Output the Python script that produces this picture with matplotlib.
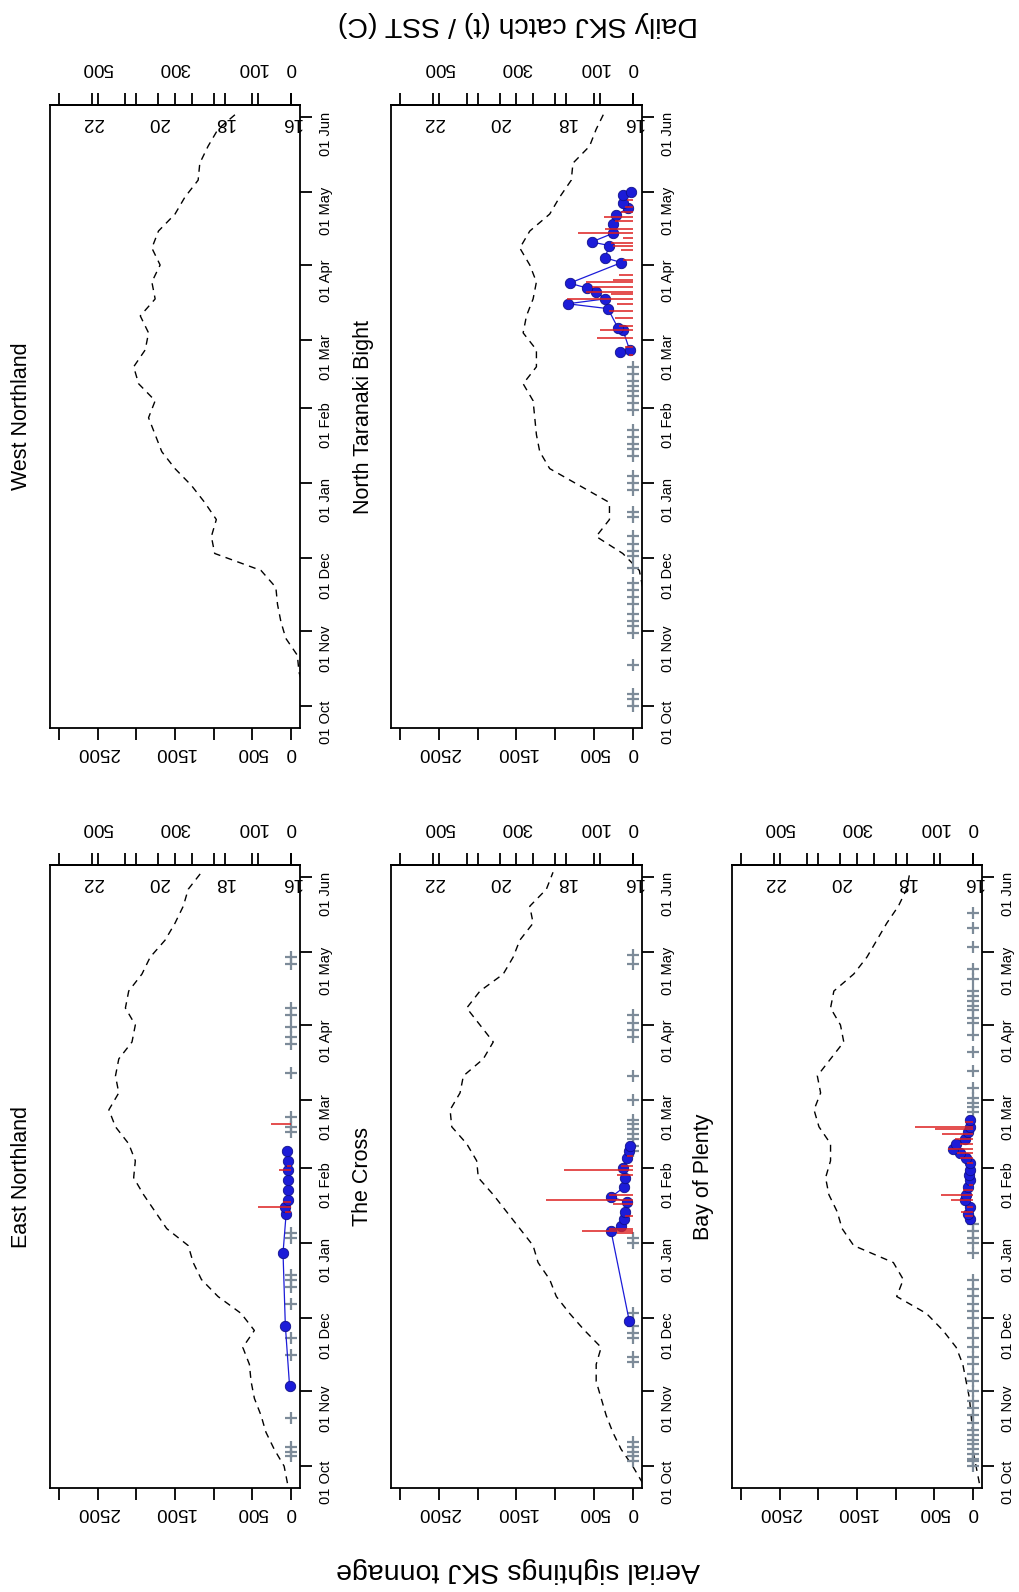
import numpy as np
import pandas as pd
import matplotlib
matplotlib.use("Agg")
import matplotlib.pyplot as plt
import matplotlib.dates as mdates
import matplotlib.transforms as mtransforms

plt.rcParams.update({
    "font.family": "Liberation Sans",
    "axes.linewidth": 1.3,
})

# ---- data ------------------------------------------------------------------
SEASON_START = pd.Timestamp("2008-10-01")      # day 0 of the season
SST_DATES = pd.date_range("2008-09-24", periods=37, freq="7D")  # weekly SST

SST_WEST_NORTHLAND = [15.0, 15.3, 15.6, 15.75, 15.8, 16.15, 16.3, 16.4, 16.45, 16.9,
                      18.3, 18.4, 18.25, 18.6, 19.0, 19.5, 19.9, 20.1, 20.3, 20.1,
                      20.6, 20.75, 20.4, 20.3, 20.55, 20.1, 20.2, 19.95, 20.2, 20.0,
                      19.5, 19.2, 18.8, 18.75, 18.5, 18.2, 17.6]
SST_NTB = [15.3, 15.4, 15.5, 15.5, 15.6, 15.6, 15.65, 15.7, 15.7, 15.8,
           16.3, 17.1, 16.7, 16.7, 17.6, 18.5, 18.8, 18.9, 18.95, 19.0,
           19.3, 18.9, 18.9, 19.3, 19.2, 19.0, 18.9, 19.1, 19.4, 19.1,
           18.5, 18.2, 17.85, 17.8, 17.3, 17.1, 16.85]
SST_EAST_NORTHLAND = [16.1, 16.2, 16.5, 16.75, 16.9, 17.1, 17.2, 17.25, 17.45, 17.1,
                      17.5, 18.2, 18.7, 18.95, 19.1, 19.75, 20.1, 20.45, 20.75, 20.7,
                      20.9, 21.3, 21.5, 21.2, 21.3, 21.2, 20.8, 20.7, 21.0, 20.9,
                      20.5, 20.25, 19.8, 19.5, 19.25, 19.1, 18.7]
SST_THE_CROSS = [15.7, 16.0, 16.35, 16.6, 16.8, 16.95, 17.1, 17.1, 16.95, 17.45,
                 17.9, 18.3, 18.5, 18.85, 19.0, 19.4, 19.8, 20.2, 20.65, 20.7,
                 21.0, 21.45, 21.5, 21.2, 21.1, 20.5, 20.2, 20.6, 21.0, 20.6,
                 19.9, 19.6, 19.4, 19.0, 19.1, 18.6, 18.4]
SST_BOP = [15.8, 15.9, 16.0, 16.0, 16.05, 16.1, 16.2, 16.3, 16.5, 16.9,
           17.4, 18.3, 18.1, 18.4, 19.6, 19.95, 20.1, 20.35, 20.45, 20.3,
           20.3, 20.65, 20.8, 20.6, 20.7, 20.3, 19.9, 20.0, 20.3, 20.2,
           19.6, 19.2, 18.9, 18.6, 18.25, 18.0, 17.9]

# aerial sightings (days since 01 Oct, tonnage)
NTB_SIGHT_DAY = [146, 147, 155, 156, 164, 166, 168, 171, 172.5, 174.5, 183, 185,
                 190, 191.5, 195, 199, 202.5, 205.5, 207.5, 211, 212]
NTB_SIGHT_T = [170, 40, 125, 190, 320, 840, 360, 470, 590, 815, 145, 360,
               300, 530, 260, 260, 210, 65, 130, 130, 17]
EN_SIGHT_DAY = [33, 58, 88, 104, 107, 110, 114, 118, 122, 126, 130]
EN_SIGHT_T = [15, 70, 100, 60, 70, 40, 35, 30, 40, 30, 45]
TC_SIGHT_DAY = [60, 97, 99, 102, 105, 109, 111, 115, 119, 123, 127, 130, 132]
TC_SIGHT_T = [45, 280, 150, 115, 95, 70, 280, 115, 95, 130, 70, 45, 30]
BOP_SIGHT_DAY = [102, 104, 107, 110, 112, 115, 118, 120, 122, 125, 127, 129,
                 131, 133, 135, 138, 140, 143]
BOP_SIGHT_T = [40, 60, 39, 103, 82, 60, 39, 50, 30, 39, 82, 170,
               255, 211, 103, 60, 30, 39]

# daily SKJ catch (days since 01 Oct, t)
NTB_CATCH_DAY = [145, 148, 152, 155, 157, 160, 163, 166, 168, 170, 171, 173, 175, 176,
                 178, 184, 188, 190, 191, 193, 195, 197, 200, 202, 204, 206, 209]
NTB_CATCH_T = [10, 20, 92, 85, 35, 45, 60, 40, 170, 55, 120, 105, 120, 50,
               35, 25, 30, 50, 55, 25, 140, 72, 45, 75, 30, 20, 15]
EN_CATCH_DAY = [105, 107, 109, 122, 124, 141]
EN_CATCH_T = [15, 84, 20, 30, 10, 50]
TC_CATCH_DAY = [96, 97, 98, 103, 108, 110, 112, 120, 122, 124, 128]
TC_CATCH_T = [40, 132, 60, 20, 50, 225, 60, 40, 178, 30, 15]
BOP_CATCH_DAY = [103, 105, 107, 110, 112, 114, 116, 125, 127, 129, 131, 133, 135,
                 137, 139, 140, 142]
BOP_CATCH_T = [20, 30, 15, 56, 81, 25, 10, 15, 34, 40, 65, 34, 45, 80, 98, 150, 20]

# flights with no SKJ sighted (days since 01 Oct)
NTB_NIL_DAY = [0, 3, 5, 17, 30, 33, 35, 38, 42, 45, 48, 51, 57, 62, 64, 67, 70, 78,
               80, 89, 92, 95, 103, 106, 108, 111, 114, 122, 125, 128, 130, 132,
               134, 137, 140]
EN_NIL_DAY = [4, 6, 8, 20, 46, 53, 67, 74, 77, 79, 94, 96, 138, 140, 144, 162, 174,
              177, 181, 186, 189, 207, 210]
TC_NIL_DAY = [2, 4, 6, 8, 10, 43, 45, 53, 55, 58, 63, 92, 94, 130, 132, 135, 137,
              139, 141, 143, 151, 161, 177, 180, 183, 186, 207, 211]
BOP_NIL_DAY = [0, 2, 3, 5, 7, 9, 11, 13, 15, 18, 21, 24, 27, 31, 35, 38, 42, 45, 49,
               53, 57, 61, 64, 67, 70, 73, 77, 88, 92, 94, 97, 100, 146, 148, 150,
               152, 156, 163, 171, 178, 183, 185, 188, 190, 192, 194, 196, 201, 205,
               214, 222, 228]

# ---- layout (pixels) -------------------------------------------------------
FIG_W, FIG_H = 1019, 1592
COLS = [(50, 300), (391, 642), (732, 982)]
ROWS = [(105, 728), (865, 1488)]

RED = "#dd1f1f"
BLUE = "#1c1cd8"
GREY = "#7d8b99"


def to_dates(days):
    return (SEASON_START + pd.to_timedelta(np.asarray(days, dtype=float), unit="D")).to_numpy()


def sst_to_t(s):
    return (np.asarray(s) - 16.0) * 3000.0 / 7.0


def t_to_sst(t):
    return 16.0 + np.asarray(t) * 7.0 / 3000.0


def panel(fig, col, row, title, sst, sight=None, catch=None, nil=None):
    x0, x1 = COLS[col]
    y0, y1 = ROWS[row]
    ax = fig.add_axes([x0 / FIG_W, 1 - y1 / FIG_H, (x1 - x0) / FIG_W, (y1 - y0) / FIG_H])

    ax.plot(sst_to_t(sst), SST_DATES.to_numpy(), color="black", lw=1.0,
            linestyle=(0, (5, 4)), zorder=1)
    if nil is not None:
        ax.plot(np.zeros(len(nil)), to_dates(nil), "+", color=GREY, ms=9, mew=1.6, zorder=2)
    if sight is not None:
        ax.plot(sight[1], to_dates(sight[0]), "-o", color=BLUE, lw=0.9, ms=7.5,
                mfc=BLUE, mec="#10108a", mew=0.6, zorder=3)
    if catch is not None:
        ax.hlines(to_dates(catch[0]), 0, np.asarray(catch[1]) * 5, color=RED,
                  lw=1.3, alpha=0.85, zorder=4)

    ax.set_xlim(3120, -120)
    ax.set_ylim(np.datetime64("2008-09-22"), np.datetime64("2009-06-06"))

    # tonnage axis (bottom)
    ax.set_xticks(range(0, 3001, 500))
    ax.set_xticklabels(["0", "500", "", "1500", "", "2500", ""])
    ax.tick_params(axis="x", direction="out", length=8.5, width=1.3,
                   labelsize=13.5, labelrotation=180, pad=3)

    # date axis (right)
    ax.yaxis.tick_right()
    ax.yaxis.set_major_locator(mdates.MonthLocator())
    ax.yaxis.set_major_formatter(mdates.DateFormatter("%d %b"))
    ax.tick_params(axis="y", direction="out", length=8.5, width=1.3,
                   labelsize=10.5, labelrotation=90, pad=5)

    # catch axis (top) and SST ticks
    sec = ax.secondary_xaxis("top", functions=(lambda t: np.asarray(t) / 5.0,
                                               lambda c: np.asarray(c) * 5.0))
    sec.set_xticks([0, 100, 200, 300, 400, 500])
    sec.set_xticklabels(["0", "100", "", "300", "", "500"])
    sec.tick_params(direction="out", length=9, width=1.3, labelsize=13.5,
                    labelrotation=180, pad=12)
    sec2 = ax.secondary_xaxis("top", functions=(t_to_sst, sst_to_t))
    sec2.set_xticks(range(16, 24))
    sec2.tick_params(direction="out", length=9, width=1.3, labeltop=False)

    trans = mtransforms.blended_transform_factory(ax.transData, ax.transAxes)
    for s in (16, 18, 20, 22):
        ax.text(sst_to_t(s), 0.972, str(s), transform=trans, rotation=180,
                ha="center", va="center", fontsize=13.5)

    fig.text((x0 - 28) / FIG_W, 1 - (y0 + y1) / 2 / FIG_H, title, rotation=90,
             ha="center", va="center", fontsize=15.5)
    return ax


fig = plt.figure(figsize=(FIG_W / 100, FIG_H / 100), dpi=100)

panel(fig, 0, 0, "West Northland", SST_WEST_NORTHLAND)
panel(fig, 1, 0, "North Taranaki Bight", SST_NTB,
      sight=(NTB_SIGHT_DAY, NTB_SIGHT_T), catch=(NTB_CATCH_DAY, NTB_CATCH_T),
      nil=NTB_NIL_DAY)
panel(fig, 0, 1, "East Northland", SST_EAST_NORTHLAND,
      sight=(EN_SIGHT_DAY, EN_SIGHT_T), catch=(EN_CATCH_DAY, EN_CATCH_T),
      nil=EN_NIL_DAY)
panel(fig, 1, 1, "The Cross", SST_THE_CROSS,
      sight=(TC_SIGHT_DAY, TC_SIGHT_T), catch=(TC_CATCH_DAY, TC_CATCH_T),
      nil=TC_NIL_DAY)
panel(fig, 2, 1, "Bay of Plenty", SST_BOP,
      sight=(BOP_SIGHT_DAY, BOP_SIGHT_T), catch=(BOP_CATCH_DAY, BOP_CATCH_T),
      nil=BOP_NIL_DAY)

fig.text(518 / FIG_W, 1 - 24 / FIG_H, "Daily SKJ catch (t) / SST (C)", rotation=180,
         ha="center", va="center", fontsize=20.5)
fig.text(518 / FIG_W, 1 - 1570 / FIG_H, "Aerial sightings SKJ tonnage", rotation=180,
         ha="center", va="center", fontsize=20.5)

fig.savefig("out.png", dpi=100)
